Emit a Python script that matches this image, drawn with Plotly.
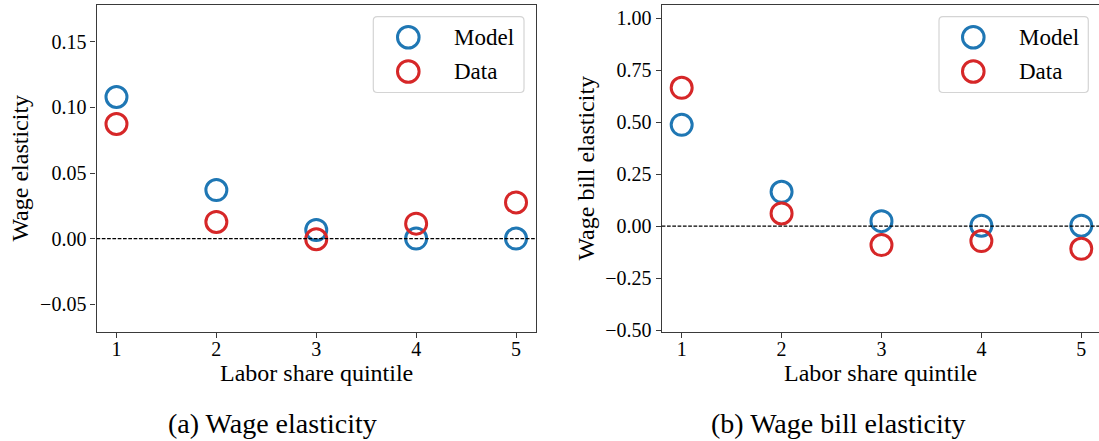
import plotly.graph_objects as go

# ---- data -------------------------------------------------------------
quintiles = [1, 2, 3, 4, 5]

wage_model = [0.108, 0.037, 0.0066, 0.0, 0.0]
wage_data = [0.0874, 0.0127, -0.0005, 0.0114, 0.0276]

bill_model = [0.487, 0.165, 0.024, 0.002, 0.002]
bill_data = [0.665, 0.061, -0.091, -0.072, -0.109]

x_ticks = [1, 2, 3, 4, 5]
x_tick_text = ["1", "2", "3", "4", "5"]

wage_ticks = [-0.05, 0.0, 0.05, 0.10, 0.15]
wage_tick_text = ["\u22120.05", "0.00", "0.05", "0.10", "0.15"]

bill_ticks = [-0.50, -0.25, 0.0, 0.25, 0.50, 0.75, 1.00]
bill_tick_text = ["\u22120.50", "\u22120.25", "0.00", "0.25", "0.50", "0.75", "1.00"]

series_names = ["Model", "Data"]
x_title = "Labor share quintile"
y_titles = ["Wage elasticity", "Wage bill elasticity"]
captions = ["(a) Wage elasticity", "(b) Wage bill elasticity"]

# ---- styling ----------------------------------------------------------
W = 1099
H_FIG = 450          # figure height in pixels
H = 441              # layout grid used for placing elements (paper fractions)
FONT = "Liberation Serif"
BLUE = "#1f77b4"
RED = "#d62728"
SPINE = "#3a3a3a"


def px(x):
    return x / W


def py(y):
    return 1 - y / H


y_dom = [py(332.3), py(4.7)]
left_dom = [px(96.5), px(536.0)]
right_dom = [px(661.7), 1.0]

fig = go.Figure()

marker_kw = dict(symbol="circle-open", size=21)

# panel (a)
fig.add_trace(go.Scatter(x=quintiles, y=wage_model, mode="markers", name=series_names[0],
                         marker=dict(color=BLUE, line=dict(width=3, color=BLUE), **marker_kw),
                         xaxis="x", yaxis="y", showlegend=False))
fig.add_trace(go.Scatter(x=quintiles, y=wage_data, mode="markers", name=series_names[1],
                         marker=dict(color=RED, line=dict(width=3, color=RED), **marker_kw),
                         xaxis="x", yaxis="y", showlegend=False))
# panel (b)
fig.add_trace(go.Scatter(x=quintiles, y=bill_model, mode="markers", name=series_names[0],
                         marker=dict(color=BLUE, line=dict(width=3, color=BLUE), **marker_kw),
                         xaxis="x2", yaxis="y2", showlegend=False))
fig.add_trace(go.Scatter(x=quintiles, y=bill_data, mode="markers", name=series_names[1],
                         marker=dict(color=RED, line=dict(width=3, color=RED), **marker_kw),
                         xaxis="x2", yaxis="y2", showlegend=False))

tick_font = dict(family=FONT, size=20, color="black")
axis_common = dict(showgrid=False, zeroline=False, showline=True, linecolor=SPINE,
                   linewidth=1.2, ticks="outside", ticklen=5, tickwidth=1.2,
                   tickcolor=SPINE, tickfont=tick_font)

fig.update_layout(
    width=W, height=H_FIG,
    margin=dict(l=0, r=0, t=0, b=0),
    paper_bgcolor="white", plot_bgcolor="white",
    showlegend=False,
    xaxis=dict(domain=left_dom, range=[0.8, 5.2], tickvals=x_ticks, ticktext=x_tick_text,
               mirror=True, anchor="y", ticklabelstandoff=-6, **axis_common),
    yaxis=dict(domain=y_dom, range=[-0.0709, 0.1784], tickvals=wage_ticks,
               ticktext=wage_tick_text, mirror=True, anchor="x", **axis_common),
    xaxis2=dict(domain=right_dom, range=[0.8, 0.8 + (W - 661.7) / 99.9], tickvals=x_ticks,
                ticktext=x_tick_text, mirror=True, anchor="y2", ticklabelstandoff=-6,
                **axis_common),
    yaxis2=dict(domain=y_dom, range=[-0.507, 1.065], tickvals=bill_ticks,
                ticktext=bill_tick_text, mirror=False, anchor="x2", **axis_common),
)

shapes = []
annotations = []

# zero reference lines
for xr, yr in (("x domain", "y"), ("x2 domain", "y2")):
    shapes.append(dict(type="line", xref=xr, yref=yr, x0=0, x1=1, y0=0, y1=0,
                       line=dict(color="black", width=1.2, dash="3.7px,1.6px"),
                       layer="above"))


def rounded_box(x0, y0, x1, y1, r=4):
    """Rounded rectangle path in paper units from pixel corners."""
    rx, ry = r / W, r / H
    X0, X1 = px(x0), px(x1)
    Y0, Y1 = py(y0), py(y1)  # Y0 top, Y1 bottom
    return (f"M {X0 + rx},{Y0} L {X1 - rx},{Y0} Q {X1},{Y0} {X1},{Y0 - ry} "
            f"L {X1},{Y1 + ry} Q {X1},{Y1} {X1 - rx},{Y1} "
            f"L {X0 + rx},{Y1} Q {X0},{Y1} {X0},{Y1 + ry} "
            f"L {X0},{Y0 - ry} Q {X0},{Y0} {X0 + rx},{Y0} Z")


# legends: (box left, box right, marker x, text x)
legend_specs = [(373.3, 524.0, 408.3, 452.0), (939.0, 1088.3, 973.3, 1016.7)]
row_y = [37.3, 71.7]
for bx0, bx1, mx, tx in legend_specs:
    shapes.append(dict(type="path", xref="paper", yref="paper",
                       path=rounded_box(bx0, 16.7, bx1, 92.7),
                       line=dict(color="#d4d4d4", width=1.2), fillcolor="rgba(255,255,255,0.85)",
                       layer="above"))
    for name, color, ry in zip(series_names, [BLUE, RED], row_y):
        rad = 10.8
        shapes.append(dict(type="circle", xref="paper", yref="paper",
                           xsizemode="pixel", ysizemode="pixel",
                           xanchor=px(mx), yanchor=py(ry),
                           x0=-rad, x1=rad, y0=-rad, y1=rad,
                           line=dict(color=color, width=3), layer="above"))
        annotations.append(dict(x=px(tx), y=py(ry), xref="paper", yref="paper",
                                text=name, showarrow=False, xanchor="left", yanchor="middle",
                                font=dict(family=FONT, size=23, color="black")))

# axis titles
for cx in (316.2, 880.8):
    annotations.append(dict(x=px(cx), y=py(374), xref="paper", yref="paper", text=x_title,
                            showarrow=False, xanchor="center", yanchor="middle",
                            font=dict(family=FONT, size=24, color="black")))
for cx, title in zip((20.5, 586.5), y_titles):
    annotations.append(dict(x=px(cx), y=py(168.5), xref="paper", yref="paper", text=title,
                            showarrow=False, textangle=-90, xanchor="center", yanchor="middle",
                            font=dict(family=FONT, size=24, color="black")))

# sub-figure captions
for cx, cap in zip((272.5, 838.6), captions):
    annotations.append(dict(x=px(cx), y=py(424), xref="paper", yref="paper", text=cap,
                            showarrow=False, xanchor="center", yanchor="middle",
                            font=dict(family=FONT, size=28, color="black")))

fig.update_layout(shapes=shapes, annotations=annotations)

fig.write_html("out.html")
